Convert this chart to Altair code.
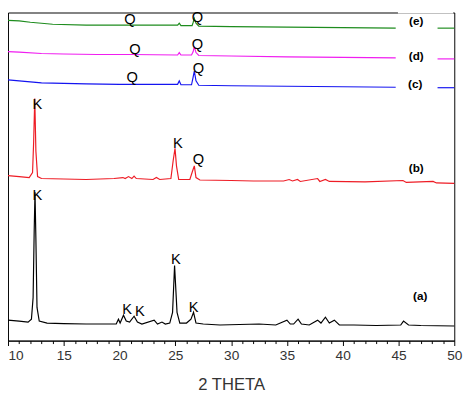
import altair as alt
import pandas as pd

# ---- trace (a) black
a_x = [10, 11, 11.8, 12.1, 12.25, 12.35, 12.42, 12.5, 12.6, 12.8, 13.5, 15, 17, 19.7, 19.9, 20.05,
       20.35, 20.6, 20.9, 21.3, 21.6, 22, 23.1, 23.4, 23.8, 24.1, 24.5, 24.75, 24.93, 25.15, 25.4,
       26.0, 26.4, 26.63, 26.85, 27.5, 29, 32.5, 34, 35.0, 35.3, 35.6, 36.0, 36.3, 37, 37.75, 38.05,
       38.45, 38.8, 39.25, 39.7, 41, 43, 45.2, 45.45, 45.9, 47, 50]
a_y = [21, 20, 19, 22, 44, 114, 152, 104, 34, 20, 18, 17.5, 17, 17, 22, 18,
       26, 20, 19, 25, 19, 17, 21, 17, 19, 17, 18, 29, 77, 29, 18,
       18, 22, 29, 18, 17, 16, 17, 16, 21, 17, 17, 22, 17, 16, 21, 18,
       24, 18, 21, 16, 16, 15.5, 16, 20, 16, 15.5, 15]

# ---- trace (b) red
b_x = [10, 11, 11.9, 12.2, 12.3, 12.4, 12.5, 12.65, 13, 15, 17, 19.5, 20.3, 20.5, 20.8, 21.1, 21.3,
       21.5, 23, 23.3, 23.6, 24.6, 24.8, 24.97, 25.1, 25.3, 26.3, 26.55, 26.7, 26.85, 27.2, 30, 32,
       34.7, 35.2, 35.5, 35.95, 36.2, 37.75, 37.95, 38.45, 38.8, 42, 45.4, 45.7, 48.1, 48.4, 50]
b_y = [169, 168, 167, 172, 204, 248, 194, 168, 166, 165.5, 165, 166, 167, 166, 168, 166, 168.5,
       166, 165, 167, 165, 166, 184, 197, 179, 165, 165, 174, 179, 167, 164.5, 164, 163.5,
       163.5, 165, 163.5, 165, 163, 166, 163, 165, 163, 162.5, 164, 162, 163, 161.5, 161]

# ---- trace (c) blue
c_x = [10, 11, 13, 15, 17, 20, 23, 25.2, 25.35, 25.5, 26.45, 26.58, 26.7, 26.85, 27.1, 30, 35, 40, 44.75]
c_y = [267, 266, 264, 263.5, 263, 262.5, 262.5, 262.5, 266, 262, 262, 269, 276, 266, 261.5, 261, 260.5, 260, 259.5]
c_key_x = [48.5, 50]
c_key_y = [259, 259]

# ---- trace (d) magenta
d_x = [10, 11, 13, 15, 18, 21, 25.2, 25.35, 25.5, 26.45, 26.6, 26.7, 26.85, 27.1, 30, 35, 40, 44.75]
d_y = [296, 295.5, 294, 293.5, 293, 293, 292.5, 295, 292.5, 292.5, 296, 301, 295, 292, 291.5, 290.5, 290, 289.5]
d_key_x = [48.5, 50]
d_key_y = [288.5, 288.5]

# ---- trace (e) green
e_x = [10, 11, 12, 14, 17, 20, 25.2, 25.35, 25.5, 26.5, 26.6, 26.7, 26.85, 27.1, 30, 35, 40, 44.75]
e_y = [328, 327.5, 326, 324, 323, 323, 323, 325, 322.5, 322.5, 326, 330, 325, 322, 321.5, 321, 320.5, 320]
e_key_x = [48.5, 50]
e_key_y = [320, 320]

series_names = ["(a)", "(b)", "(c)", "(d)", "(e)"]
series_colors = ["#000000", "#ee1c25", "#1414f0", "#f01ef0", "#1e8c1e"]

# peak annotations
peak_text = ["K", "K", "K", "K", "K", "K", "K", "Q", "Q", "Q", "Q", "Q", "Q", "Q"]
peak_x = [12.63, 20.68, 21.82, 25.05, 26.63, 12.63, 25.23, 27.07, 21.12, 27.07, 21.38, 26.98, 20.94, 26.98]
peak_y = [149, 32, 30, 83, 34, 242, 202, 186, 270, 279, 299, 304, 329, 331]

# series labels
lab_x = [46.94, 46.59, 46.5, 46.59, 46.59]
lab_y = [46, 177, 263, 291, 327]

# x axis tick values
tick_values = list(range(10, 51))

rows = []
def add(name, seg, xs, ys):
    for i, (x, y) in enumerate(zip(xs, ys)):
        rows.append({"series": name, "seg": name + seg, "x": x, "y": y, "i": i})

add("(a)", "m", a_x, a_y)
add("(b)", "m", b_x, b_y)
add("(c)", "m", c_x, c_y)
add("(c)", "k", c_key_x, c_key_y)
add("(d)", "m", d_x, d_y)
add("(d)", "k", d_key_x, d_key_y)
add("(e)", "m", e_x, e_y)
add("(e)", "k", e_key_x, e_key_y)
df = pd.DataFrame(rows)

peaks = pd.DataFrame({"t": peak_text, "x": peak_x, "y": peak_y})
labs = pd.DataFrame({"t": series_names, "x": lab_x, "y": lab_y})

xscale = alt.Scale(domain=[10, 50], nice=False)
yscale = alt.Scale(domain=[0, 336], nice=False)

xaxis = alt.Axis(
    title="2 THETA",
    values=tick_values,
    labelExpr="datum.value % 5 === 0 ? datum.label : ''",
    labelOverlap=False,
    labelBound=False,
    labelAlign={"condition": {"test": "datum.value === 10", "value": "left"}, "value": "center"},
    tickSize={"condition": {"test": "datum.value % 5 === 0", "value": 5}, "value": 3},
    grid=False,
    domainColor="black",
    tickColor="black",
    labelColor="#333333",
    labelFont="Liberation Sans",
    labelFontSize=14,
    labelPadding=3,
    titleFont="Liberation Sans",
    titleFontSize=17,
    titleFontWeight="normal",
    titleColor="#333333",
    titlePadding=15,
)

X = alt.X("x:Q", scale=xscale, axis=xaxis)
Y = alt.Y("y:Q", scale=yscale, axis=None)

lines = alt.Chart(df).mark_line(strokeWidth=1.2).encode(
    x=X,
    y=Y,
    color=alt.Color("series:N", scale=alt.Scale(domain=series_names, range=series_colors), legend=None),
    detail="seg:N",
    order="i:Q",
)

peak_marks = alt.Chart(peaks).mark_text(
    font="Liberation Sans", fontSize=15, color="black", baseline="middle", align="center"
).encode(x=X, y=Y, text="t:N")

lab_marks = alt.Chart(labs).mark_text(
    font="Liberation Sans", fontSize=12, fontWeight="bold", color="black", baseline="middle", align="center"
).encode(x=X, y=Y, text="t:N")

gap = alt.Chart(pd.DataFrame({"x": [44.95], "x2": [49.9]})).mark_rule(color="white", strokeWidth=2).encode(
    x=X, x2="x2:Q", y=alt.value(0)
)

chart = alt.layer(lines, peak_marks, lab_marks, gap).properties(
    width=457, height=336,
    autosize=alt.AutoSizeParams(type="none"),
    padding={"left": 0, "top": 0, "right": 12, "bottom": 49},
).configure_view(stroke="black", strokeWidth=1)

chart.save("out.html", embed_options={"renderer": "svg", "actions": False})
